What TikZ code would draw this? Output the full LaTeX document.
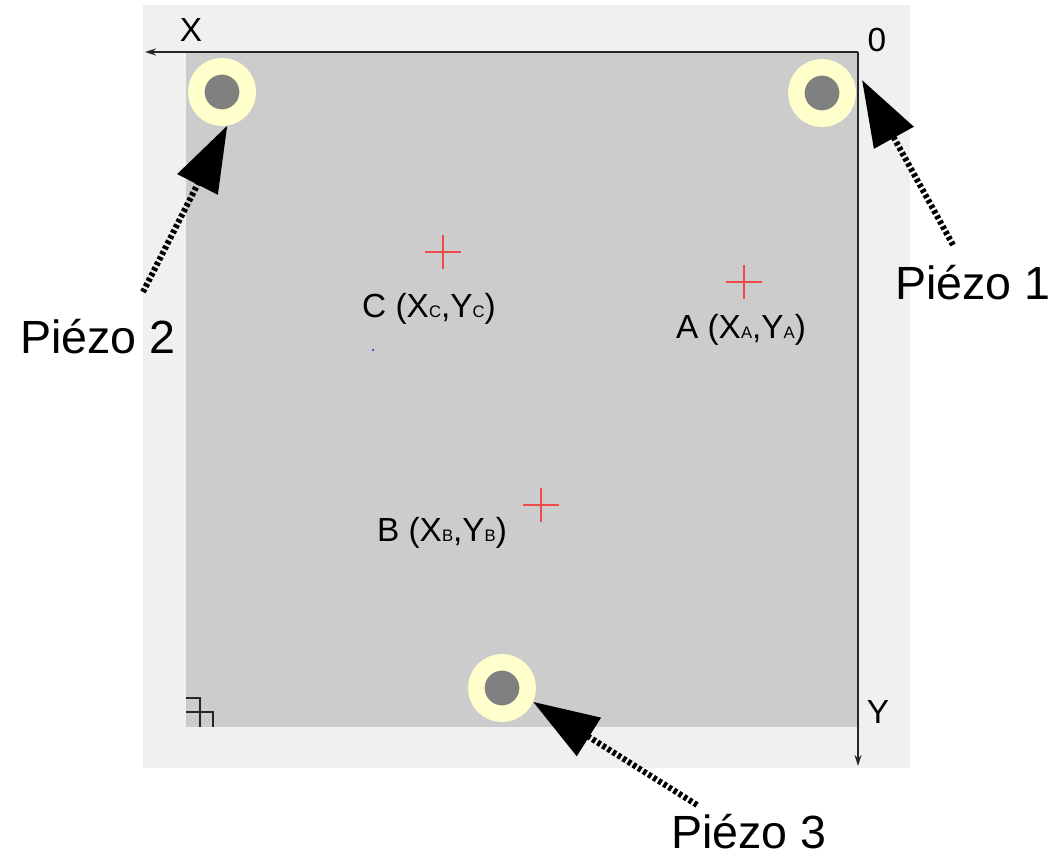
\documentclass[tikz,border=0pt]{standalone}
\usepackage{fontspec}
\setmainfont{Liberation Sans}
\usetikzlibrary{arrows.meta}

\definecolor{framebg}{HTML}{F0F0F0}
\definecolor{platebg}{HTML}{CCCCCC}
\definecolor{ringyellow}{HTML}{FFFFCC}
\definecolor{coregray}{HTML}{808080}
\definecolor{markred}{HTML}{F04A4A}

\newcommand{\sub}[1]{{\fontsize{9.5}{9.5}\selectfont #1}}

\begin{document}
\begin{tikzpicture}[
        x=0.02cm, y=-0.02cm,
        piezo/.style={circle, fill=coregray, draw=ringyellow, line width=0.33cm, minimum size=1.03cm, inner sep=0pt},
        pointer/.style={line width=0.12cm, dash pattern=on 0.07cm off 0.05cm, -{Triangle[length=1.32cm, width=0.88cm]}},
        axis/.style={line width=0.8pt, draw=black!85, -{Stealth[length=0.22cm, width=0.14cm]}},
        target/.style={draw=markred, line width=1.1pt},
        bigtext/.style={font=\fontsize{26.5}{30}\selectfont, inner sep=0pt},
        ptlabel/.style={font=\fontsize{19}{22}\selectfont, inner sep=0pt},
        axlabel/.style={font=\fontsize{19}{22}\selectfont, inner sep=0pt}
    ]
        \useasboundingbox (0,0) rectangle (1053,857);

        % Frame and plate
        \fill[framebg] (143,5) rectangle (910,768);
        \fill[platebg] (186,52) rectangle (858,727);

        % Axes
        \coordinate (origin) at (858,52);
        \coordinate (xend) at (145,52);
        \coordinate (yend) at (858,766);
        \draw[axis] (origin) -- (xend);
        \draw[axis] (origin) -- (yend);
        \node[axlabel] (xlbl) at (191,30) {X};
        \node[axlabel] (olbl) at (877,40) {0};
        \node[axlabel] (ylbl) at (878,712) {Y};

        % Corner mark
        \draw[line width=0.03cm, black!85] (186,698) -- (200,698) -- (200,727)
            (186,712) -- (213,712) -- (213,727);

        % Piezos
        \node[piezo] (p1) at (822,93) {};
        \node[piezo] (p2) at (222,92) {};
        \node[piezo] (p3) at (502,688) {};

        % Measured points
        \coordinate (ptA) at (744,282);
        \coordinate (ptB) at (541,505);
        \coordinate (ptC) at (443,252);
        \foreach \pt in {ptA, ptB, ptC}
            \draw[target] (\pt) +(-18,0) -- +(18,0) +(0,-17) -- +(0,17);
        \node[ptlabel] (lblA) at (741,330) {A (X\sub{A},Y\sub{A})};
        \node[ptlabel] (lblB) at (442,533) {B (X\sub{B},Y\sub{B})};
        \node[ptlabel] (lblC) at (429,309) {C (X\sub{C},Y\sub{C})};
        \fill[blue] (373,350) circle (1);

        % Piezo labels
        \node[bigtext] (pz1) at (973,283) {Piézo 1};
        \node[bigtext] (pz2) at (98,337) {Piézo 2};
        \node[bigtext] (pz3) at (749,832) {Piézo 3};

        % Pointers
        \coordinate (tail1) at (953,245);
        \coordinate (tail2) at (143,292);
        \coordinate (tail3) at (697,805);
        \coordinate (tip1) at ([shift={(40,-13)}]p1.center);
        \draw[pointer] (tail1) -- (tip1);
        \draw[pointer] (tail2) -- (p2.-81);
        \draw[pointer] (tail3) -- (p3.-24);
    \end{tikzpicture}
\end{document}
